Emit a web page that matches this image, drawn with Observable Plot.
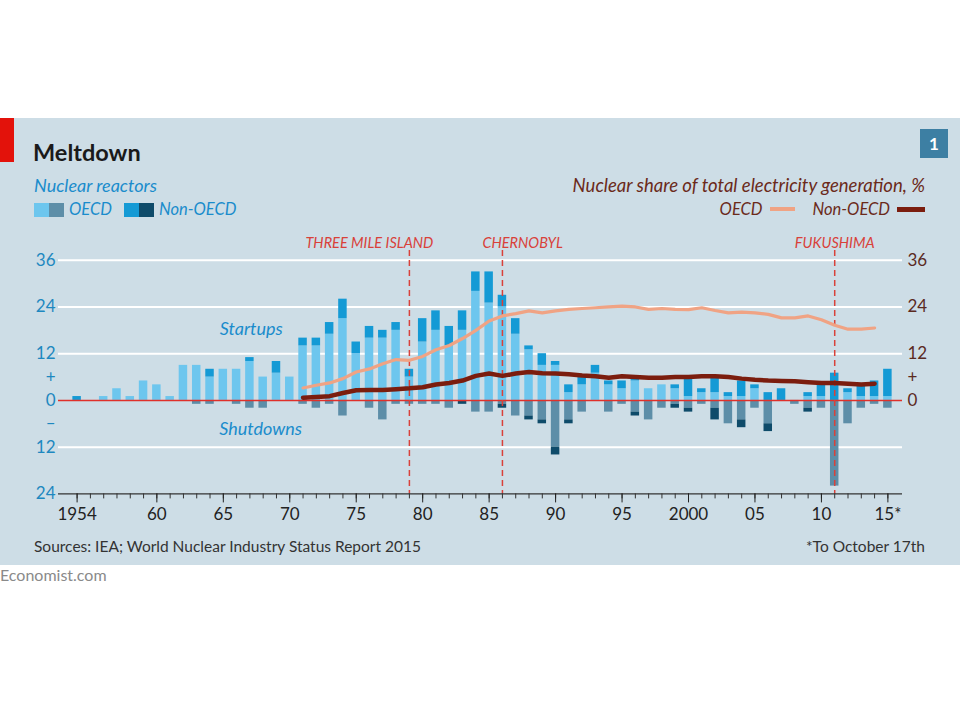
<!DOCTYPE html>
<html><head><meta charset="utf-8">
<script src="https://cdn.jsdelivr.net/npm/d3@7"></script>
<script src="https://cdn.jsdelivr.net/npm/@observablehq/plot@0.6"></script>
<style>
body{margin:0;background:#fff;font-family:Lato,"Open Sans",sans-serif;}
#wrap{position:relative;width:960px;height:720px;overflow:hidden;}
#panel{position:absolute;left:0;top:118px;width:960px;height:447px;background:#cddde6;}
.abs{position:absolute;white-space:nowrap;line-height:1;}
#chart{position:absolute;left:0;top:230px;}
.sw{display:inline-block;width:15px;height:14px;vertical-align:top;margin-top:2px;}
</style></head>
<body>
<div id="wrap">
  <div id="panel"></div>
  <div class="abs" style="left:0;top:118px;width:14px;height:44px;background:#e3120b;"></div>
  <div class="abs" style="left:33px;top:141px;font-size:23.5px;font-weight:700;color:#1a1a1a;">Meltdown</div>
  <div class="abs" style="left:920px;top:129px;width:28px;height:29px;background:#3d7fa3;color:#fff;font-weight:700;font-size:17px;text-align:center;line-height:29px;">1</div>
  <div class="abs" style="left:34px;top:176px;font-size:18px;font-style:italic;color:#1a8ccc;">Nuclear reactors</div>
  <div class="abs" id="legL" style="left:34px;top:201px;font-size:16.5px;font-style:italic;color:#1a8ccc;"></div>
  <div class="abs" style="right:35px;top:176px;font-size:18.5px;font-style:italic;color:#6b2a1a;">Nuclear share of total electricity generation, %</div>
  <div class="abs" id="legR" style="right:35px;top:201px;font-size:16.5px;font-style:italic;color:#6b2a1a;"></div>
  <div id="chart"></div>
  <div class="abs" style="left:34px;top:539px;font-size:15.5px;color:#333;">Sources: IEA; World Nuclear Industry Status Report 2015</div>
  <div class="abs" style="right:35px;top:539px;font-size:15.5px;color:#333;">*To October 17th</div>
  <div class="abs" style="left:0;top:567px;font-size:16px;color:#8a8a8a;">Economist.com</div>
</div>
<script>
// ---- data ----
const years = d3.range(1954, 2016);
const startOECD = [0,0,1,3,1,5,4,1,9,9, 6,8,8,10,6,7,6,14,14,17, 21,12,16,16,18,6,15,18,14,18, 28,25,24,17,13,9,9,2,4,7, 4,3,5,3,4,3,1,2,2,1, 1,3,0,0,0,1,1,0,2,1, 1,1];
const startNonOECD = [1,0,0,0,0,0,0,0,0,0, 2,0,0,1,0,3,0,2,2,3, 5,3,3,2,2,2,6,5,5,5, 5,8,3,4,1,3,1,2,2,2, 1,2,1,0,0,1,5,1,4,1, 4,1,2,3,0,1,3,7,1,3, 4,7];
const shutOECD = [0,0,0,0,0,0,0,0,0,1, 1,0,1,2,2,0,0,1,2,1, 4,0,2,5,1,1,1,1,2,0, 3,3,1,4,4,5,12,5,3,0, 3,1,3,5,2,1,2,1,2,6, 5,2,6,0,1,2,2,22,6,2, 1,2];
const shutNonOECD = [0,0,0,0,0,0,0,0,0,0, 0,0,0,0,0,0,0,0,0,0, 0,0,0,0,0,0,0,0,0,1, 0,0,1,0,1,1,2,1,0,0, 0,0,1,0,0,1,1,0,3,0, 2,0,2,0,0,1,0,0,0,0, 0,0];

const shareYears = d3.range(1971, 2015);
const oecdShare = [3.2,3.9,4.5,5.6,7.3,8.1,9.4,10.5,10.3,11.3, 13,14.1,15.9,18,20.4,21.7,22.3,23,22.5,23, 23.4,23.6,23.8,24,24.2,24,23.4,23.6,23.4,23.3, 23.8,23.1,22.5,22.7,22.5,22.1,21.2,21.2,21.7,20.7, 19.3,18.3,18.3,18.6];
const nonOecdShare = [0.7,0.9,1.1,1.9,2.6,2.7,2.7,2.9,3.1,3.4, 4.1,4.5,5.1,6.3,6.9,6.3,6.9,7.3,7,6.9, 6.7,6.4,6.2,5.8,6.2,6,5.8,5.8,6,6, 6.2,6.2,6,5.6,5.3,5.1,5,4.9,4.7,4.5, 4.5,4.3,4.1,4.3];

const eventNames = ["THREE MILE ISLAND", "CHERNOBYL", "FUKUSHIMA"];
const eventYears = [1979, 1986, 2011];

const leftTicks = [36, 24, 12, 6, 0, -6, -12, -24];
const rightTicks = [36, 24, 12, 6, 0];
const gridValues = [36, 24, 12, -12];
const labelYears = [1954, 1960, 1965, 1970, 1975, 1980, 1985, 1990, 1995, 2000, 2005, 2010, 2015];
const yearLabels = ["1954", "60", "65", "70", "75", "80", "85", "90", "95", "2000", "05", "10", "15*"];

const kinds = ["OECD startups", "Non-OECD startups", "OECD shutdowns", "Non-OECD shutdowns"];
const kindColors = ["#6dc6ee", "#149ad5", "#5d8ea8", "#0e4b6a"];

// ---- build table ----
const bars = [];
years.forEach((yr, i) => {
  const so = startOECD[i], sn = startNonOECD[i], ho = shutOECD[i], hn = shutNonOECD[i];
  if (so) bars.push({year: yr, kind: kinds[0], y1: 0, y2: so});
  if (sn) bars.push({year: yr, kind: kinds[1], y1: so, y2: so + sn});
  if (ho) bars.push({year: yr, kind: kinds[2], y1: 0, y2: -ho});
  if (hn) bars.push({year: yr, kind: kinds[3], y1: -ho, y2: -(ho + hn)});
});
const shares = shareYears.map((yr, i) => ({year: yr, oecd: oecdShare[i], non: nonOecdShare[i]}));
const events = eventNames.map((n, i) => ({name: n, year: eventYears[i]}));

const leftFmt = d => d === 6 ? "+" : d === -6 ? "–" : String(Math.abs(d));
const rightFmt = d => d === 6 ? "+" : String(d);
const xFmt = d => yearLabels[labelYears.indexOf(d)];

const eventStyle = {"THREE MILE ISLAND": {textAnchor: "end", dx: 24}, "CHERNOBYL": {textAnchor: "start", dx: -20}, "FUKUSHIMA": {textAnchor: "middle", dx: 0}};
const red = "#d9413a";

const chart = Plot.plot({
  width: 960, height: 300,
  marginLeft: 58, marginRight: 58, marginTop: 20, marginBottom: 36.6,
  style: {background: "transparent", fontFamily: "Lato, 'Open Sans', sans-serif", fontSize: "17px", overflow: "visible"},
  x: {domain: [1952.6, 2016.1]},
  y: {domain: [-24, 38.5]},
  color: {domain: kinds, range: kindColors},
  marks: [
    Plot.ruleY(gridValues, {stroke: "#fff", strokeWidth: 2}),
    Plot.rect(bars, {x1: d => d.year - 0.5, x2: d => d.year + 0.5, y1: "y1", y2: "y2", fill: "kind", insetLeft: 2.4, insetRight: 2.4}),
    Plot.ruleY([0], {stroke: "#e0302a", strokeWidth: 1.6}),
    Plot.ruleX(events, {x: "year", stroke: red, strokeWidth: 1.5, strokeDasharray: "6,4"}),
    Plot.line(shares, {x: "year", y: "oecd", stroke: "#f0a384", strokeWidth: 3.2, curve: "linear"}),
    Plot.line(shares, {x: "year", y: "non", stroke: "#7b1d0e", strokeWidth: 4.5, curve: "linear"}),
    Plot.ruleY([-24], {stroke: "#333", strokeWidth: 1.2}),
    Plot.axisX({ticks: years, tickFormat: () => "", tickSize: 5, color: "#333", label: null}),
    Plot.axisX({ticks: labelYears, tickFormat: xFmt, tickSize: 9, tickPadding: 5, color: "#222", fontSize: 17, label: null}),
    Plot.axisY({anchor: "left", ticks: leftTicks, tickFormat: leftFmt, tickSize: 0, tickPadding: 3, color: "#1e88c0", fontSize: 17, label: null}),
    Plot.axisY({anchor: "right", ticks: rightTicks, tickFormat: rightFmt, tickSize: 0, tickPadding: 5, color: "#5b2a1f", fontSize: 17, label: null}),
    Plot.text(["Startups"], {x: 1967.1, y: 18.4, text: d => d, fill: "#1a8ccc", fontStyle: "italic", fontSize: 18}),
    Plot.text(["Shutdowns"], {x: 1967.8, y: -7.3, text: d => d, fill: "#1a8ccc", fontStyle: "italic", fontSize: 18}),
    ...events.map(e => Plot.text([e], {x: "year", text: "name", frameAnchor: "top", lineAnchor: "bottom", dy: -3,
      textAnchor: eventStyle[e.name].textAnchor, dx: eventStyle[e.name].dx, fill: red, fontStyle: "italic", fontSize: 14.5}))
  ]
});
document.getElementById("chart").appendChild(chart);

// legends
const legL = document.getElementById("legL");
legL.innerHTML =
  `<span class="sw" style="background:${kindColors[0]}"></span><span class="sw" style="background:${kindColors[2]}"></span>` +
  `<span style="margin-left:5px;margin-right:12px">OECD</span>` +
  `<span class="sw" style="background:${kindColors[1]}"></span><span class="sw" style="background:${kindColors[3]}"></span>` +
  `<span style="margin-left:5px">Non-OECD</span>`;
const legR = document.getElementById("legR");
legR.innerHTML =
  `<span>OECD</span><span style="display:inline-block;width:25px;height:4px;background:#f0a384;margin:0 18px 3px 7px;vertical-align:middle"></span>` +
  `<span>Non-OECD</span><span style="display:inline-block;width:28px;height:5px;background:#7b1d0e;margin:0 0 3px 7px;vertical-align:middle"></span>`;
</script>
</body></html>
